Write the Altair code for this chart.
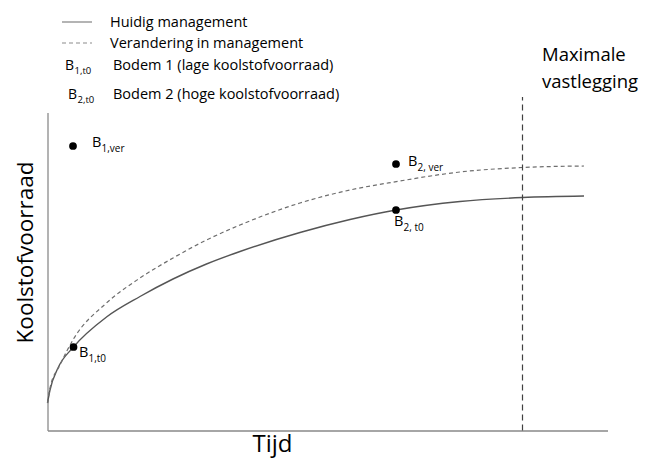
import altair as alt
import pandas as pd

# Curves (time units / carbon units, arbitrary)
time_current = [0, 2.5, 10.5, 26, 59, 92.5, 125.5, 159, 192.5, 252.5, 302.5, 348.5, 412.5, 475, 536.5]
carbon_current = [27.5, 40.5, 62.5, 83.5, 113.5, 134, 151.5, 166.5, 179, 198, 211, 220.5, 229, 233, 234.5]
time_changed = [0, 2.5, 12.5, 26, 59, 92.5, 125.5, 159, 192.5, 252.5, 302.5, 352.5, 379.5, 412.5, 475, 536.5]
carbon_changed = [27.5, 42.5, 65.5, 91.5, 127.5, 152.5, 172.5, 190.5, 205.5, 227.5, 240.5, 249.5, 254, 258.5, 263, 264.5]

# Marked points
point_time = [25.5, 348.5, 348.5, 26]
point_carbon = [284.5, 266.5, 220.5, 83.5]
label_time = [44.5, 360.5, 346.5, 31.5]
label_carbon = [287.5, 268.5, 208.5, 77.5]
label_main = ["B", "B", "B", "B"]
label_sub = ["1,ver", "2, ver", "2, t0", "1,t0"]

# Maximum sequestration marker
max_time = [475]
max_top = [333.5]
max_text = ["Maximale", "vastlegging"]
max_text_time = [494.5, 494.5]
max_text_carbon = [375.5, 348.5]

# Legend (drawn as annotations)
leg_line_x = [14.5]
leg_line_x2 = [44.5]
leg_solid_y = [408.5]
leg_dash_y = [387.5]
leg_text = ["Huidig management", "Verandering in management",
            "Bodem 1 (lage koolstofvoorraad)", "Bodem 2 (hoge koolstofvoorraad)"]
leg_text_x = [62.5, 62.5, 65.5, 65.5]
leg_text_y = [407.5, 386.5, 364.5, 335.5]
leg_b_x = [17.5, 20.5]
leg_b_y = [364.5, 335.5]
leg_b_sub = ["1,t0", "2,t0"]

FONT = "Open Sans"
xs = alt.Scale(domain=[0, 560], nice=False, zero=False)
ys = alt.Scale(domain=[0, 318], nice=False, zero=False)
xaxis = alt.Axis(labels=False, ticks=False, grid=False, domainColor="#a6a6a6", domainWidth=2,
                 titleFontSize=24, titleFont=FONT, titleFontWeight="normal", titleColor="black",
                 titleX=224.5, titleY=21, titleBaseline="alphabetic", titleAlign="center")
yaxis = alt.Axis(labels=False, ticks=False, grid=False, domainColor="#8a8a8a", domainWidth=1.3,
                 titleFontSize=22.5, titleFont=FONT, titleFontWeight="normal", titleColor="black",
                 titleX=-15, titleY=139.5, titleBaseline="alphabetic", titleAlign="center", titleAngle=270)


def X(f="x"):
    return alt.X(f"{f}:Q", scale=xs, axis=xaxis, title="Tijd")


def Y(f="y"):
    return alt.Y(f"{f}:Q", scale=ys, axis=yaxis, title="Koolstofvoorraad")


df_cur = pd.DataFrame({"x": time_current, "y": carbon_current, "o": range(len(time_current))})
df_chg = pd.DataFrame({"x": time_changed, "y": carbon_changed, "o": range(len(time_changed))})
df_pts = pd.DataFrame({"x": point_time, "y": point_carbon})
df_lbl = pd.DataFrame({"x": label_time, "y": label_carbon, "m": label_main, "s": label_sub})
df_max = pd.DataFrame({"x": max_time, "y": [0], "y2": max_top})
df_maxt = pd.DataFrame({"x": max_text_time, "y": max_text_carbon, "t": max_text})
df_leg_s = pd.DataFrame({"x": leg_line_x, "x2": leg_line_x2, "y": leg_solid_y})
df_leg_d = pd.DataFrame({"x": leg_line_x, "x2": leg_line_x2, "y": leg_dash_y})
df_leg_t = pd.DataFrame({"x": leg_text_x, "y": leg_text_y, "t": leg_text})
df_leg_b = pd.DataFrame({"x": leg_b_x, "y": leg_b_y, "m": ["B", "B"], "s": leg_b_sub})

cur = alt.Chart(df_cur).mark_line(interpolate="monotone", color="#555555", strokeWidth=1.4).encode(
    x=X(), y=Y(), order="o:Q")
chg = alt.Chart(df_chg).mark_line(interpolate="monotone", color="#6e6e6e", strokeWidth=1.2,
                                  strokeDash=[4, 3]).encode(x=X(), y=Y(), order="o:Q")
vline = alt.Chart(df_max).mark_rule(color="#404040", strokeWidth=1.2, strokeDash=[6, 4]).encode(
    x=X(), y=Y(), y2="y2:Q")
pts = alt.Chart(df_pts).mark_circle(size=60, color="black", opacity=1).encode(x=X(), y=Y())
lbl = alt.Chart(df_lbl).mark_text(align="left", baseline="middle", font=FONT, fontSize=14.5,
                                  color="black").encode(x=X(), y=Y(), text="m:N")
lbl_sub = alt.Chart(df_lbl).mark_text(align="left", baseline="middle", font=FONT, fontSize=10,
                                      color="black", dx=9.5, dy=6).encode(x=X(), y=Y(), text="s:N")
maxt = alt.Chart(df_maxt).mark_text(align="left", baseline="middle", font=FONT, fontSize=18.5,
                                    color="black").encode(x=X(), y=Y(), text="t:N")
leg_s = alt.Chart(df_leg_s).mark_rule(color="#8c8c8c", strokeWidth=1.3).encode(x=X(), x2="x2:Q", y=Y())
leg_d = alt.Chart(df_leg_d).mark_rule(color="#8c8c8c", strokeWidth=1.2, strokeDash=[4, 3]).encode(
    x=X(), x2="x2:Q", y=Y())
leg_t = alt.Chart(df_leg_t).mark_text(align="left", baseline="middle", font=FONT, fontSize=14.5,
                                      color="black").encode(x=X(), y=Y(), text="t:N")
leg_b = alt.Chart(df_leg_b).mark_text(align="left", baseline="middle", font=FONT, fontSize=14,
                                      color="black").encode(x=X(), y=Y(), text="m:N")
leg_bs = alt.Chart(df_leg_b).mark_text(align="left", baseline="middle", font=FONT, fontSize=9.5,
                                       color="black", dx=9.5, dy=5).encode(x=X(), y=Y(), text="s:N")

chart = alt.layer(cur, chg, vline, pts, lbl, lbl_sub, maxt, leg_s, leg_d, leg_t, leg_b, leg_bs).properties(
    width=560, height=318,
    autosize=alt.AutoSizeParams(type="none"),
    padding={"left": 39.5, "top": 104.5, "right": 32.5, "bottom": 27.5},
    background="white",
).configure_view(stroke=None)

chart.save("out.html", embed_options={"renderer": "svg", "actions": False})
